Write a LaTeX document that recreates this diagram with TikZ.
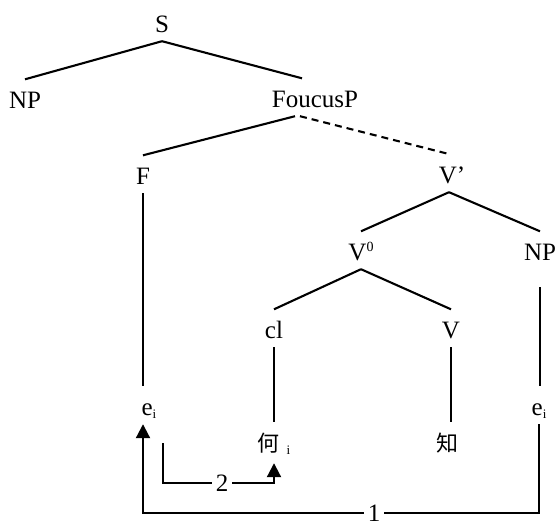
\documentclass[tikz,border=0pt]{standalone}
\usepackage{fontspec}
\setmainfont{Liberation Serif}
\newfontfamily\cjk{Noto Sans CJK SC}
\usetikzlibrary{arrows.meta}
\newcommand\subi{\raisebox{-3pt}{\fontsize{13}{13}\selectfont i}}
\newcommand\supo{\raisebox{9pt}{\fontsize{14}{14}\selectfont 0}}
\begin{document}
\begin{tikzpicture}[x=1pt,y=-1pt,
  cat/.style={anchor=base, inner sep=2pt, text height=26.5pt, text depth=7pt, font=\fontsize{25}{30}\selectfont},
  lbl/.style={fill=white, inner xsep=4pt, inner ysep=0.5pt, font=\fontsize{25}{30}\selectfont},
  branch/.style={line width=2.1pt},
  mv/.style={-{Triangle[width=14pt,length=14pt]}}]
\useasboundingbox (0,0) rectangle (559,528);
\node[cat] (S) at (162,32) {S};
\node[cat] (NP1) at (25,108) {NP};
\node[cat] (Foc) at (315,107) {FoucusP};
\node[cat] (F) at (143,184) {F};
\node[cat] (Vbar) at (452,183) {V’};
\node[cat] (V0) at (361,260) {V\supo};
\node[cat] (NP2) at (540,260) {NP};
\node[cat] (Cl) at (274,338) {cl};
\node[cat] (V) at (451,338) {V};
\node[cat] (Ei1) at (149,415) {e\subi};
\node[cat] (Ei2) at (539,415) {e\subi};
\node[cat] (He) at (274,451) {{\cjk\fontsize{22}{26}\selectfont 何}\hspace{7pt}\subi};
\node[cat] (Zhi) at (447,451) {\cjk\fontsize{22}{26}\selectfont 知};
\coordinate (s2) at (163,443);
\node[lbl] (two) at (222,483) {2};
\node[lbl] (one) at (374,513) {1};

%tree
\path[draw,branch,-] (S.south) -- (NP1.north);
\path[draw,branch,-] (S.south) -- ([xshift=-13pt]Foc.north);
\path[draw,branch,-] ([xshift=-20pt]Foc.south) -- (F.north);
\path[draw,branch,dash pattern=on 7pt off 5pt] ([xshift=-15pt]Foc.south) -- ([xshift=-2pt]Vbar.north);
\path[draw,branch,-] ([xshift=-3pt]Vbar.south) -- (V0.north);
\path[draw,branch,-] ([xshift=-3pt]Vbar.south) -- (NP2.north);
\path[draw,branch,-] (V0.south) -- (Cl.north);
\path[draw,branch,-] (V0.south) -- (V.north);
\path[draw,branch,-] (F.south) -- (F.south |- Ei1.north);
\path[draw,branch,-] (Cl.south) -- (Cl.south |- He.north);
\path[draw,branch,-] (V.south) -- (V.south |- Zhi.north);
\path[draw,branch,-] ([yshift=-18pt]NP2.south) -- (NP2.south |- Ei2.north);

%movement
\path[draw,branch,-] (Ei2.south) |- (one);
\path[draw,branch,mv] (one) -| (F.south |- Ei1.south);
\path[draw,branch,-] (s2) |- (two);
\path[draw,branch,mv] (two) -| ([yshift=-3pt]He.south);
\end{tikzpicture}
\end{document}
